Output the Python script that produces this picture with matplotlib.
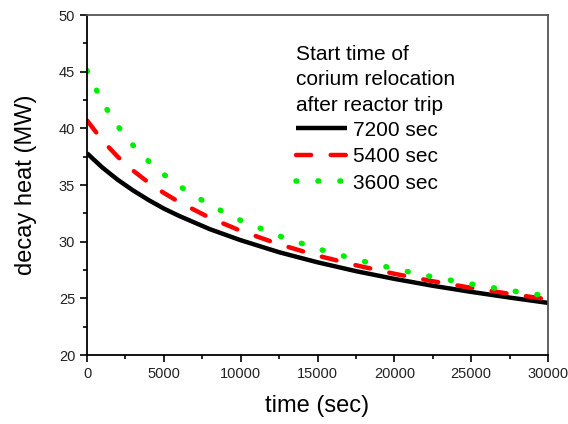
import matplotlib
matplotlib.use("Agg")
import matplotlib.pyplot as plt
from matplotlib.ticker import MultipleLocator

plt.rcParams['font.family'] = ['Liberation Sans', 'DejaVu Sans']

time_s = [0, 1000, 2000, 3000, 4000, 5000, 6000, 8000, 10000, 12500,
          15000, 17500, 20000, 22500, 25000, 27500, 30000]
heat_7200 = [37.8, 36.54, 35.46, 34.52, 33.68, 32.92, 32.27, 31.10, 30.13, 29.07,
             28.18, 27.40, 26.72, 26.11, 25.57, 25.07, 24.60]
heat_5400 = [40.7, 38.93, 37.49, 36.27, 35.22, 34.30, 33.49, 32.10, 30.96, 29.77,
             28.77, 27.92, 27.17, 26.51, 25.93, 25.40, 24.91]
heat_3600 = [45.1, 42.30, 40.19, 38.50, 37.11, 35.93, 34.91, 33.23, 31.88, 30.51,
             29.38, 28.43, 27.61, 26.89, 26.26, 25.69, 25.20]
labels = ['7200 sec', '5400 sec', '3600 sec']
legend_title = 'Start time of\ncorium relocation\nafter reactor trip'

fig = plt.figure(figsize=(5.68, 4.24), dpi=100)
ax = fig.add_axes([0.1532, 0.1627, 0.8116, 0.8019])

ax.plot(time_s, heat_7200, color='black', lw=3.2, solid_capstyle='butt', label=labels[0])
ax.plot(time_s, heat_5400, color='#ff0000', lw=3.2, dashes=(3.4, 4.4), dash_capstyle='round', label=labels[1])
ax.plot(time_s, heat_3600, color='#00ee00', lw=4.0, dashes=(0.15, 3.8), dash_capstyle='round', label=labels[2])

ax.set_xlim(0, 30000)
ax.set_ylim(20, 50)
ax.xaxis.set_major_locator(MultipleLocator(5000))
ax.xaxis.set_minor_locator(MultipleLocator(2500))
ax.yaxis.set_major_locator(MultipleLocator(5))
ax.yaxis.set_minor_locator(MultipleLocator(2.5))

for s in ['left', 'bottom']:
    ax.spines[s].set_color('black')
    ax.spines[s].set_linewidth(1.3)
for s in ['top', 'right']:
    ax.spines[s].set_color('#555555')
    ax.spines[s].set_linewidth(1.3)

ax.tick_params(which='major', direction='out', length=5, width=1.2, labelsize=10.5,
               colors='black', labelcolor='#222222', top=False, right=False)
ax.tick_params(which='minor', direction='out', length=3, width=1.2, top=False, right=False)

ax.set_xlabel('time (sec)', fontsize=17, labelpad=10)
ax.set_ylabel('decay heat (MW)', fontsize=17, labelpad=16)

leg = ax.legend(title=legend_title, loc='upper left', bbox_to_anchor=(0.445, 0.925),
                frameon=False, fontsize=15, title_fontsize=15, handlelength=2.45,
                handletextpad=0.25, labelspacing=0.36, borderpad=0.2, borderaxespad=0.0)
leg._legend_box.align = 'left'
leg._legend_box.sep = 4
leg.get_title().set_linespacing(1.45)

fig.savefig('out.png', dpi=100)
